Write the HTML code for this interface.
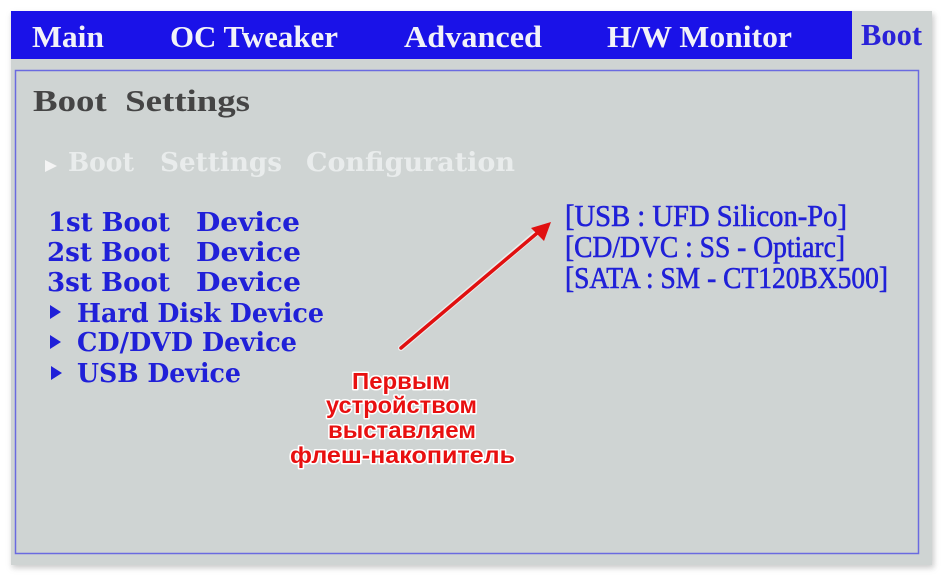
<!DOCTYPE html>
<html><head><meta charset="utf-8"><style>
html,body{margin:0;padding:0;background:#fff;width:944px;height:576px;overflow:hidden}
</style></head><body>
<svg width="944" height="576" viewBox="0 0 944 576" xmlns="http://www.w3.org/2000/svg">
<defs>
<filter id="sh" x="-5%" y="-5%" width="110%" height="110%"><feGaussianBlur stdDeviation="3"/></filter>
</defs>
<rect x="12" y="14" width="922" height="554" fill="#999" opacity="0.5" filter="url(#sh)"/>
<rect x="11" y="11" width="921" height="554" fill="#cfd4d3"/>
<rect x="11" y="11" width="841" height="48" fill="#1a12e8"/>
<rect x="15.5" y="70.5" width="903" height="483" fill="none" stroke="#6a6ae0" stroke-width="1.5"/>
<g font-family="Liberation Serif, serif" font-weight="bold" font-size="31" fill="#f2f2f8">
<text x="32" y="47" textLength="72" lengthAdjust="spacingAndGlyphs">Main</text>
<text x="170" y="47" textLength="168" lengthAdjust="spacingAndGlyphs">OC Tweaker</text>
<text x="404" y="47" textLength="138" lengthAdjust="spacingAndGlyphs">Advanced</text>
<text x="607" y="47" textLength="185" lengthAdjust="spacingAndGlyphs">H/W Monitor</text>
<text x="861" y="45" textLength="61" lengthAdjust="spacingAndGlyphs" fill="#2a22d8">Boot</text>
<text x="33" y="111" textLength="217" lengthAdjust="spacingAndGlyphs" fill="#454545">Boot&#160;&#160;Settings</text>
</g>
<g font-family="DejaVu Serif, serif" font-weight="bold" font-size="26" fill="#e9ecec">
<path d="M45 160 L57 166 L45 172 Z" fill="#f4f4f4"/>
<text x="68" y="171" textLength="66" lengthAdjust="spacingAndGlyphs">Boot</text>
<text x="160" y="171" textLength="122" lengthAdjust="spacingAndGlyphs">Settings</text>
<text x="306" y="171" textLength="209" lengthAdjust="spacingAndGlyphs">Configuration</text>
</g>
<g font-family="DejaVu Serif, serif" font-weight="bold" font-size="26" fill="#2020d8">
<text x="48" y="231" textLength="122" lengthAdjust="spacingAndGlyphs">1st Boot</text>
<text x="196" y="231" textLength="104" lengthAdjust="spacingAndGlyphs">Device</text>
<text x="47" y="261" textLength="123" lengthAdjust="spacingAndGlyphs">2st Boot</text>
<text x="196" y="261" textLength="105" lengthAdjust="spacingAndGlyphs">Device</text>
<text x="47" y="291" textLength="123" lengthAdjust="spacingAndGlyphs">3st Boot</text>
<text x="196" y="291" textLength="105" lengthAdjust="spacingAndGlyphs">Device</text>
<path d="M50 305 L61 312 L50 319 Z"/>
<text x="77" y="322" textLength="247" lengthAdjust="spacingAndGlyphs">Hard Disk Device</text>
<path d="M50 335 L61 342 L50 349 Z"/>
<text x="77" y="351" textLength="220" lengthAdjust="spacingAndGlyphs">CD/DVD Device</text>
<path d="M51 366 L62 373 L51 380 Z"/>
<text x="77" y="382" textLength="164" lengthAdjust="spacingAndGlyphs">USB Device</text>
</g>
<g font-family="Liberation Serif, serif" font-size="31" fill="#2020d8" stroke="#2020d8" stroke-width="0.6">
<text x="565" y="226" textLength="282" lengthAdjust="spacingAndGlyphs">[USB : UFD  Silicon-Po]</text>
<text x="565" y="257" textLength="280" lengthAdjust="spacingAndGlyphs">[CD/DVC : SS - Optiarc]</text>
<text x="565" y="288" textLength="323" lengthAdjust="spacingAndGlyphs">[SATA : SM - CT120BX500]</text>
</g>
<line x1="401" y1="348" x2="540" y2="230" stroke="#fff" stroke-width="6" stroke-linecap="round" opacity="0.6"/>
<line x1="401" y1="348" x2="542" y2="229" stroke="#e01010" stroke-width="3.5" stroke-linecap="round"/>
<path d="M551 222 L531 228 L544 241 Z" fill="#e01010"/>
<g font-family="Liberation Sans, sans-serif" font-weight="bold" font-size="23" fill="#e81010" stroke="#fff" stroke-width="3" paint-order="stroke" stroke-linejoin="round">
<text x="352" y="389" textLength="98" lengthAdjust="spacingAndGlyphs">Первым</text>
<text x="326" y="413" textLength="151" lengthAdjust="spacingAndGlyphs">устройством</text>
<text x="328" y="438" textLength="148" lengthAdjust="spacingAndGlyphs">выставляем</text>
<text x="290" y="463" textLength="225" lengthAdjust="spacingAndGlyphs">флеш-накопитель</text>
</g>
</svg>
</body></html>
